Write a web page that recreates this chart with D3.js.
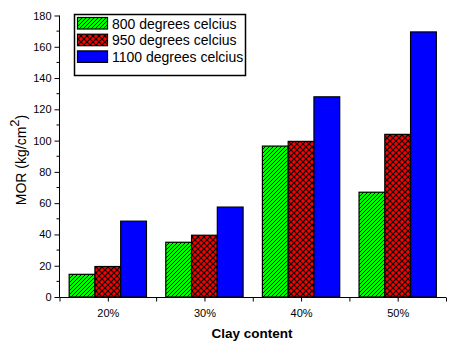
<!DOCTYPE html>
<html>
<head>
<meta charset="utf-8">
<script src="https://cdn.jsdelivr.net/npm/d3@7"></script>
<style>
  body { margin: 0; background: #fff; }
  svg { display: block; font-family: Arial, "Liberation Sans", sans-serif; }
</style>
</head>
<body>
<div id="chart"></div>
<script>
// data
const categories = ["20%", "30%", "40%", "50%"];
const seriesNames = ["800 degrees celcius", "950 degrees celcius", "1100 degrees celcius"];
const mor800 = [14.5, 35, 96.5, 67];
const mor950 = [19.5, 39.5, 99.5, 104];
const mor1100 = [48.5, 57.5, 128, 169.5];
const yTicks = [0, 20, 40, 60, 80, 100, 120, 140, 160, 180];

const seriesValues = [mor800, mor950, mor1100];
const fills = ["url(#hatchGreen)", "url(#crossRed)", "#0000ff"];

const W = 453, H = 344;
const svg = d3.select("#chart").append("svg")
    .attr("width", W)
    .attr("height", H);

// patterns
const defs = svg.append("defs");
const pg = defs.append("pattern")
    .attr("id", "hatchGreen")
    .attr("patternUnits", "userSpaceOnUse")
    .attr("width", 4).attr("height", 4);
pg.append("rect").attr("width", 4).attr("height", 4).attr("fill", "#00ff00");
pg.append("path")
    .attr("d", "M-1,1 L1,-1 M0,4 L4,0 M3,5 L5,3")
    .attr("stroke", "#000").attr("stroke-width", 1);

const pr = defs.append("pattern")
    .attr("id", "crossRed")
    .attr("patternUnits", "userSpaceOnUse")
    .attr("width", 6).attr("height", 6);
pr.append("rect").attr("width", 6).attr("height", 6).attr("fill", "#000");
pr.append("path")
    .attr("d", "M3,0.8 L5.2,3 L3,5.2 L0.8,3Z M0,-2.2 L2.2,0 L0,2.2 L-2.2,0Z M6,-2.2 L8.2,0 L6,2.2 L3.8,0Z M0,3.8 L2.2,6 L0,8.2 L-2.2,6Z M6,3.8 L8.2,6 L6,8.2 L3.8,6Z")
    .attr("fill", "#ff0000");

// scales
const x = d3.scaleLinear().domain([0.5, 4.5]).range([59.5, 446]);
const y = d3.scaleLinear().domain([0, 180]).range([297, 15.5]);
const inner = d3.scaleBand().domain(d3.range(seriesNames.length)).range([-0.4, 0.4]);

// bars
seriesValues.forEach((vals, s) => {
    svg.append("g").selectAll("rect")
        .data(vals)
        .enter()
        .append("rect")
        .attr("x", (d, i) => x(i + 1 + inner(s)))
        .attr("y", d => y(d))
        .attr("width", x(inner.bandwidth()) - x(0))
        .attr("height", d => y(0) - y(d))
        .attr("fill", fills[s])
        .attr("stroke", "#000")
        .attr("stroke-width", 1.2);
});

// y axis
const yAxis = svg.append("g")
    .attr("transform", "translate(59.5,0)")
    .call(d3.axisLeft(y).tickValues(yTicks).tickSize(5).tickPadding(3))
    .call(g => g.select(".domain").attr("d", `M0,${y(0)}V${y(180)}`));
yAxis.selectAll("text").attr("font-size", 11).attr("font-family", "Arial, 'Liberation Sans', sans-serif");
yAxis.selectAll(".minor")
    .data(d3.range(10, 180, 20))
    .enter().append("line")
    .attr("class", "minor")
    .attr("x2", -3)
    .attr("y1", d => y(d)).attr("y2", d => y(d))
    .attr("stroke", "#000");

// x axis
const xAxis = svg.append("g")
    .attr("transform", `translate(0,${y(0) + 0.5})`)
    .call(d3.axisBottom(x)
        .tickValues(d3.range(0.5, 4.51, 0.5))
        .tickSize(4)
        .tickPadding(8)
        .tickFormat(d => Number.isInteger(d) ? categories[d - 1] : ""))
    .call(g => g.select(".domain").attr("d", `M${x(0.5)},0H${x(4.5)}`));
xAxis.selectAll("text").attr("font-size", 11).attr("font-family", "Arial, 'Liberation Sans', sans-serif");

// axis titles
svg.append("text")
    .attr("x", 252).attr("y", 338)
    .attr("text-anchor", "middle")
    .attr("font-size", 13.5).attr("font-weight", "bold")
    .text("Clay content");

const yt = svg.append("text")
    .attr("transform", "translate(26,160) rotate(-90)")
    .attr("text-anchor", "middle")
    .attr("font-size", 14);
yt.append("tspan").text("MOR (kg/cm");
yt.append("tspan").attr("dy", -7).attr("font-size", 13).text("2");
yt.append("tspan").attr("dy", 7).text(")");

// legend
const legend = svg.append("g");
legend.append("rect")
    .attr("x", 74.5).attr("y", 14.5)
    .attr("width", 171).attr("height", 61)
    .attr("fill", "#fff").attr("stroke", "#000").attr("stroke-width", 1.5);
seriesNames.forEach((name, i) => {
    const ly = 17.5 + i * 16.7;
    legend.append("rect")
        .attr("x", 77.5).attr("y", ly)
        .attr("width", 30).attr("height", 11.5)
        .attr("fill", fills[i]).attr("stroke", "#000").attr("stroke-width", 1.2);
    legend.append("text")
        .attr("x", 112).attr("y", ly + 11)
        .attr("font-size", 14)
        .text(name);
});
</script>
</body>
</html>
